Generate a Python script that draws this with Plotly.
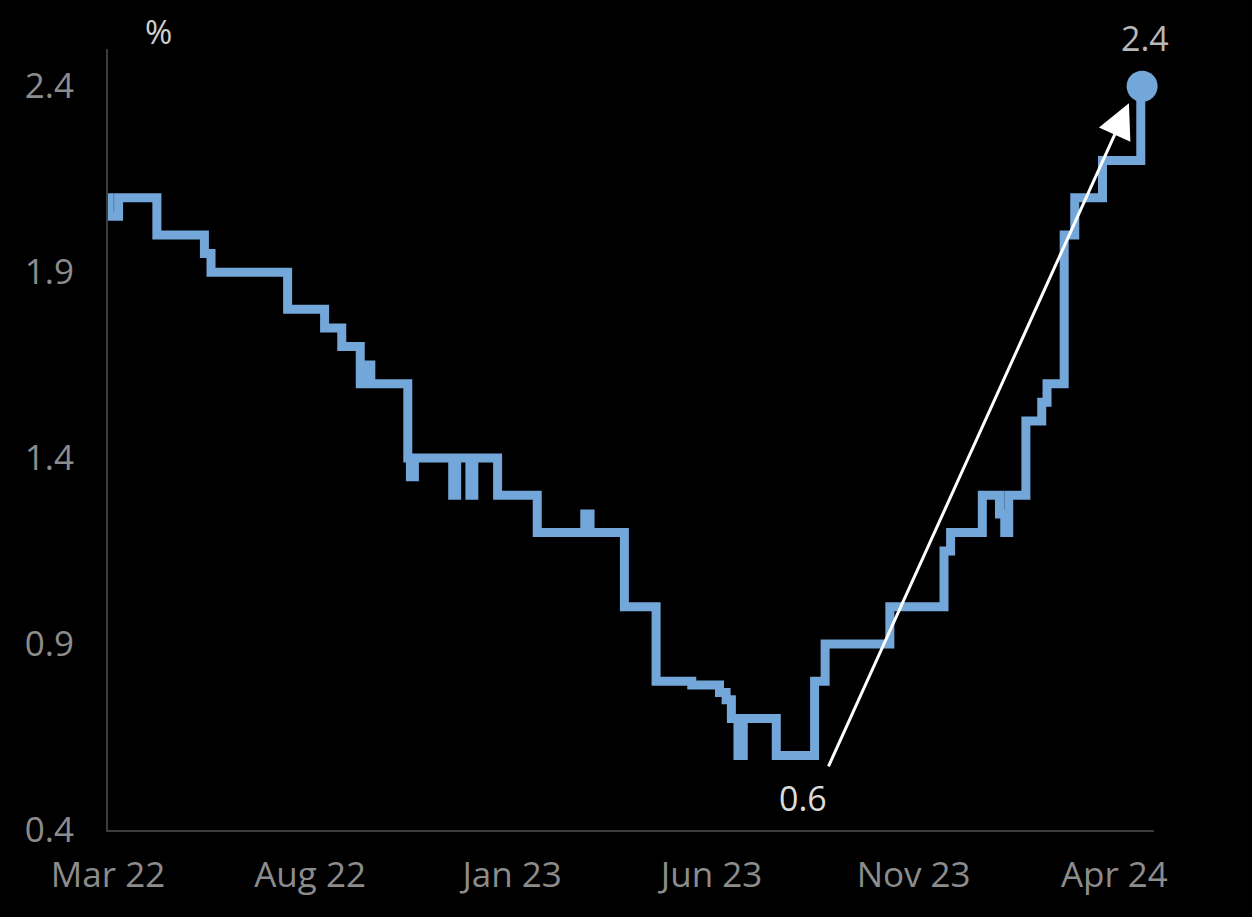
import plotly.graph_objects as go

# Step series: dates where the value changes, and the value from that date on
dates = [
    "2022-03-01", "2022-03-02", "2022-03-09", "2022-04-07", "2022-05-13", "2022-05-18",
    "2022-07-15", "2022-08-12", "2022-08-25", "2022-09-08", "2022-09-12", "2022-09-16",
    "2022-10-14", "2022-10-16", "2022-10-19", "2022-11-17", "2022-11-20", "2022-11-30",
    "2022-12-03", "2022-12-21", "2023-01-20", "2023-02-25", "2023-03-01", "2023-03-27",
    "2023-04-20", "2023-05-17", "2023-06-07", "2023-06-12", "2023-06-16", "2023-06-21",
    "2023-06-25", "2023-07-20", "2023-08-18", "2023-08-26", "2023-10-14", "2023-11-24",
    "2023-11-29", "2023-12-23", "2024-01-05", "2024-01-09", "2024-01-12", "2024-01-25",
    "2024-02-06", "2024-02-10", "2024-02-23", "2024-03-02", "2024-03-23", "2024-04-21",
]
values = [
    2.10, 2.05, 2.10, 2.00, 1.95, 1.90,
    1.80, 1.75, 1.70, 1.60, 1.65, 1.60,
    1.40, 1.35, 1.40, 1.30, 1.40, 1.30,
    1.40, 1.30, 1.20, 1.25, 1.20, 1.00,
    0.80, 0.79, 0.77, 0.75, 0.70, 0.60,
    0.70, 0.60, 0.80, 0.90, 1.00, 1.15,
    1.20, 1.30, 1.25, 1.20, 1.30, 1.50,
    1.55, 1.60, 2.00, 2.10, 2.20, 2.40,
]

tick_dates = ["2022-03-01", "2022-08-01", "2023-01-01", "2023-06-01", "2023-11-01", "2024-04-01"]
tick_labels = ["Mar 22", "Aug 22", "Jan 23", "Jun 23", "Nov 23", "Apr 24"]
y_ticks = [0.4, 0.9, 1.4, 1.9, 2.4]

low_date, low_value = "2023-08-28", 0.567
arrow_tip_date, arrow_tip_value = "2024-04-12", 2.354
last_date, last_value = "2024-04-22", 2.4

LINE = "#73A7DA"
FONT = "Open Sans"

fig = go.Figure()
fig.add_trace(go.Scatter(
    x=dates, y=values, mode="lines", line=dict(color=LINE, width=9, shape="hv"),
    hoverinfo="skip", showlegend=False,
))
fig.add_trace(go.Scatter(
    x=[last_date], y=[last_value], mode="markers",
    marker=dict(color=LINE, size=31), cliponaxis=False, showlegend=False,
))

# arrow from the low to the latest value
fig.add_annotation(
    x=arrow_tip_date, y=arrow_tip_value, ax=low_date, ay=low_value,
    xref="x", yref="y", axref="x", ayref="y", text="",
    showarrow=True, arrowhead=2, arrowsize=2.3, arrowwidth=3, arrowcolor="#ffffff",
)
fig.add_annotation(x="2023-08-09", y=0.486, xref="x", yref="y", text="0.6",
                   showarrow=False, font=dict(family=FONT, size=34, color="#dcdcdc"))
fig.add_annotation(x=0.9914, y=1.014, xref="paper", yref="paper", text="2.4",
                   showarrow=False, xanchor="center", yanchor="middle",
                   font=dict(family=FONT, size=34, color="#b8b8b8"))
fig.add_annotation(x=0.048, y=1.022, xref="paper", yref="paper", text="%",
                   showarrow=False, xanchor="center", yanchor="middle",
                   font=dict(family=FONT, size=33, color="#cfcfcf"))

fig.update_layout(
    width=1252, height=917,
    paper_bgcolor="#000000", plot_bgcolor="#000000",
    margin=dict(l=108, r=98, t=49, b=87),
    font=dict(family=FONT, color="#9a9a9a"),
    xaxis=dict(
        range=["2022-03-01", "2024-05-01"], tickvals=tick_dates, ticktext=tick_labels,
        showgrid=False, zeroline=False, showline=True, linecolor="#3c3c3c", linewidth=2,
        tickfont=dict(family=FONT, size=35, color="#8c8c8c"), ticks="",
        ticklabelstandoff=13,
    ),
    yaxis=dict(
        range=[0.4, 2.5], tickvals=y_ticks, ticktext=[f"{v:.1f}" for v in y_ticks],
        showgrid=False, zeroline=False, showline=True, linecolor="#3c3c3c", linewidth=2,
        tickfont=dict(family=FONT, size=35, color="#8c8c8c"), ticks="",
        ticklabelstandoff=25,
    ),
)

fig.write_html("out.html")
